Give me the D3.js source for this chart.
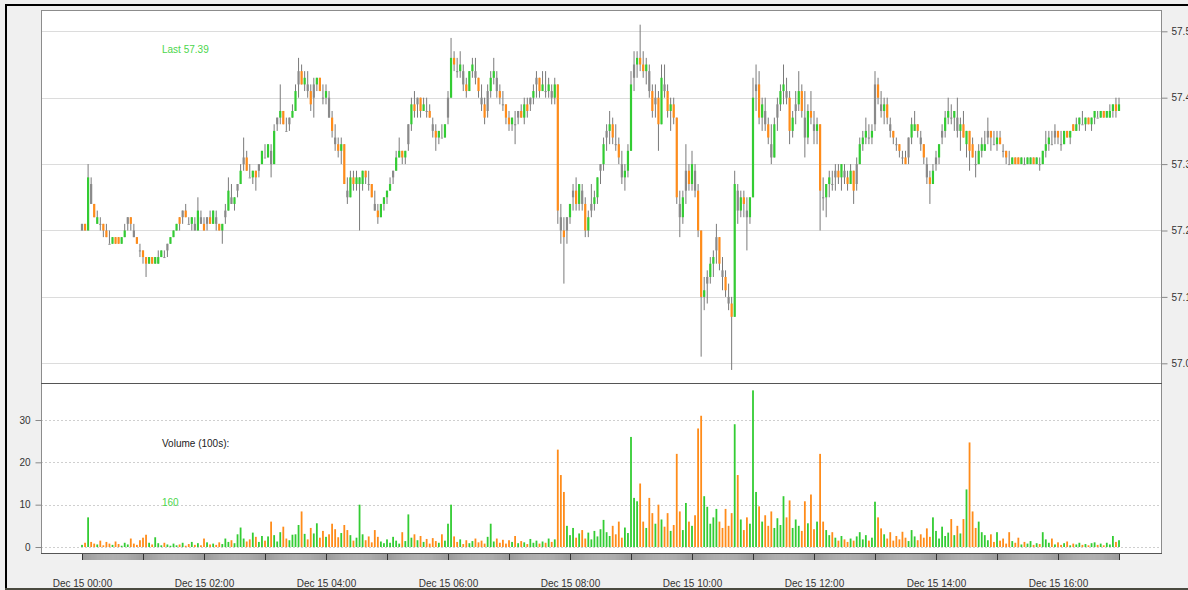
<!DOCTYPE html>
<html>
<head>
<meta charset="utf-8">
<script src="https://cdn.jsdelivr.net/npm/d3@7"></script>
<style>
  html, body { margin: 0; padding: 0; background: #f0f0f0; }
  svg { display: block; font-family: "Liberation Sans", Arial, sans-serif; }
</style>
</head>
<body>
<svg width="1188" height="590"></svg>
<script>
// 3-minute bars, Dec 15 00:00 -> 17:00
const opens = [57.20,57.21,57.20,57.27,57.24,57.21,57.21,57.21,57.20,57.18,57.18,57.19,57.19,57.18,57.19,57.21,57.22,57.20,57.19,57.17,
 57.17,57.16,57.15,57.16,57.15,57.15,57.16,57.16,57.17,57.18,57.19,57.20,57.22,57.22,57.23,57.21,57.21,57.21,57.20,57.22,
 57.21,57.21,57.22,57.21,57.22,57.21,57.20,57.22,57.23,57.25,57.24,57.26,57.27,57.30,57.31,57.28,57.28,57.29,57.29,57.30,
 57.31,57.31,57.32,57.30,57.36,57.37,57.38,57.35,57.36,57.37,57.38,57.42,57.44,57.42,57.42,57.41,57.40,57.42,57.43,57.40,
 57.40,57.40,57.37,57.34,57.33,57.32,57.33,57.26,57.25,57.28,57.27,57.27,57.27,57.29,57.27,57.27,57.24,57.23,57.22,57.24,
 57.25,57.26,57.28,57.29,57.31,57.32,57.31,57.33,57.36,57.39,57.39,57.40,57.38,57.38,57.38,57.36,57.35,57.34,57.34,57.34,
 57.37,57.40,57.46,57.44,57.44,57.44,57.42,57.41,57.44,57.44,57.43,57.40,57.39,57.38,57.41,57.43,57.43,57.41,57.39,57.39,
 57.37,57.36,57.36,57.37,57.38,57.37,57.39,57.39,57.40,57.42,57.43,57.41,57.41,57.41,57.41,57.40,57.42,57.22,57.20,57.20,
 57.22,57.25,57.26,57.24,57.26,57.24,57.20,57.23,57.24,57.25,57.29,57.30,57.34,57.35,57.36,57.33,57.33,57.30,57.28,57.29,
 57.32,57.43,57.45,57.46,57.45,57.44,57.44,57.41,57.39,57.40,57.36,57.42,57.41,57.38,57.39,57.37,57.24,57.22,57.26,57.29,
 57.27,57.29,57.26,57.20,57.10,57.12,57.13,57.15,57.17,57.19,57.14,57.13,57.10,57.09,57.07,57.26,57.23,57.25,57.23,57.22,
 57.25,57.41,57.42,57.37,57.38,57.36,57.33,57.31,57.37,57.39,57.41,57.41,57.40,57.35,57.38,57.39,57.41,57.37,57.34,57.38,
 57.36,57.35,57.36,57.25,57.25,57.27,57.27,57.28,57.29,57.28,57.29,57.28,57.27,57.29,57.27,57.30,57.33,57.34,57.34,57.34,
 57.36,57.42,57.39,57.38,57.39,57.36,57.35,57.33,57.33,57.31,57.31,57.31,57.34,57.35,57.36,57.34,57.33,57.30,57.28,57.27,
 57.30,57.31,57.34,57.35,57.37,57.37,57.37,57.37,57.35,57.36,57.33,57.35,57.33,57.30,57.30,57.32,57.32,57.34,57.35,57.33,
 57.33,57.34,57.32,57.32,57.30,57.30,57.31,57.31,57.30,57.30,57.30,57.30,57.31,57.30,57.30,57.30,57.32,57.33,57.33,57.34,
 57.35,57.33,57.33,57.35,57.34,57.36,57.35,57.36,57.36,57.36,57.37,57.36,57.37,57.37,57.37,57.38,57.37,57.37,57.38,57.39,
 57.38];

const highs = [57.21,57.21,57.30,57.28,57.24,57.23,57.22,57.21,57.21,57.20,57.19,57.19,57.19,57.19,57.21,57.22,57.22,57.21,57.19,57.18,
 57.17,57.16,57.16,57.16,57.16,57.17,57.17,57.17,57.18,57.19,57.20,57.21,57.22,57.23,57.24,57.22,57.22,57.22,57.25,57.23,
 57.22,57.22,57.23,57.23,57.23,57.21,57.21,57.24,57.28,57.27,57.25,57.27,57.30,57.34,57.32,57.30,57.29,57.29,57.30,57.32,
 57.33,57.33,57.33,57.36,57.37,57.42,57.38,57.37,57.37,57.39,57.42,57.46,57.45,57.44,57.44,57.42,57.43,57.43,57.43,57.42,
 57.42,57.41,57.38,57.36,57.34,57.34,57.33,57.28,57.29,57.29,57.29,57.28,57.29,57.29,57.29,57.27,57.26,57.24,57.24,57.25,
 57.26,57.28,57.29,57.32,57.34,57.32,57.32,57.36,57.40,57.41,57.40,57.40,57.40,57.40,57.39,57.37,57.36,57.35,57.36,57.36,
 57.41,57.49,57.47,57.46,57.47,57.45,57.43,57.44,57.46,57.46,57.43,57.42,57.40,57.42,57.44,57.46,57.44,57.42,57.41,57.39,
 57.38,57.37,57.38,57.38,57.39,57.40,57.40,57.40,57.42,57.44,57.43,57.44,57.44,57.43,57.42,57.43,57.42,57.24,57.22,57.22,
 57.24,57.27,57.28,57.27,57.27,57.25,57.23,57.27,57.26,57.28,57.30,57.34,57.36,57.38,57.37,57.36,57.34,57.32,57.30,57.33,
 57.44,57.47,57.47,57.51,57.47,57.46,57.45,57.42,57.42,57.41,57.45,57.45,57.42,57.40,57.40,57.37,57.26,57.26,57.33,57.30,
 57.32,57.30,57.27,57.20,57.13,57.14,57.16,57.17,57.21,57.19,57.16,57.14,57.12,57.10,57.29,57.27,57.26,57.26,57.25,57.25,
 57.43,57.45,57.44,57.40,57.40,57.37,57.36,57.37,57.40,57.42,57.45,57.43,57.41,57.38,57.41,57.44,57.42,57.41,57.39,57.41,
 57.38,57.37,57.36,57.28,57.27,57.29,57.29,57.30,57.30,57.30,57.30,57.29,57.30,57.29,57.31,57.34,57.35,57.37,57.36,57.36,
 57.44,57.43,57.41,57.40,57.40,57.37,57.35,57.34,57.33,57.32,57.32,57.34,57.37,57.38,57.36,57.35,57.33,57.31,57.29,57.30,
 57.32,57.33,57.36,57.38,57.40,57.39,57.38,57.40,57.37,57.38,57.35,57.35,57.34,57.32,57.33,57.34,57.35,57.37,57.35,57.35,
 57.35,57.35,57.33,57.32,57.32,57.31,57.31,57.31,57.31,57.31,57.31,57.31,57.31,57.31,57.31,57.32,57.35,57.35,57.35,57.36,
 57.35,57.35,57.35,57.35,57.35,57.36,57.37,57.37,57.38,57.37,57.37,57.37,57.38,57.38,57.38,57.38,57.38,57.39,57.39,57.40,
 57.40];

const lows = [57.20,57.20,57.20,57.24,57.22,57.21,57.20,57.19,57.19,57.18,57.18,57.18,57.18,57.18,57.19,57.20,57.20,57.19,57.18,57.16,
 57.15,57.13,57.15,57.15,57.15,57.15,57.16,57.16,57.16,57.18,57.19,57.20,57.20,57.21,57.22,57.21,57.20,57.20,57.20,57.21,
 57.20,57.20,57.21,57.21,57.20,57.20,57.18,57.21,57.23,57.24,57.23,57.25,57.27,57.29,57.29,57.28,57.27,57.26,57.28,57.30,
 57.31,57.31,57.28,57.30,57.35,57.36,57.36,57.35,57.35,57.37,57.38,57.40,57.42,57.41,57.40,57.38,57.37,57.41,57.41,57.39,
 57.39,57.37,57.34,57.32,57.31,57.30,57.27,57.24,57.25,57.26,57.26,57.20,57.26,57.27,57.26,57.25,57.23,57.21,57.22,57.23,
 57.24,57.26,57.27,57.29,57.31,57.30,57.30,57.32,57.35,57.37,57.37,57.37,57.38,57.37,57.37,57.34,57.32,57.33,57.34,57.34,
 57.36,57.40,57.44,57.43,57.43,57.41,57.40,57.41,57.43,57.42,57.40,57.38,57.36,57.37,57.40,57.42,57.40,57.39,57.38,57.36,
 57.35,57.35,57.33,57.36,57.37,57.36,57.37,57.38,57.39,57.40,57.40,57.41,57.40,57.40,57.39,57.39,57.21,57.18,57.12,57.18,
 57.21,57.23,57.23,57.23,57.23,57.19,57.19,57.22,57.23,57.24,57.27,57.29,57.32,57.33,57.33,57.32,57.30,57.27,57.26,57.28,
 57.32,57.41,57.43,57.44,57.43,57.42,57.40,57.37,57.37,57.32,57.36,57.40,57.37,57.35,57.36,57.24,57.19,57.21,57.24,57.26,
 57.26,57.25,57.19,57.01,57.08,57.09,57.12,57.13,57.15,57.14,57.11,57.10,57.08,56.99,57.07,57.21,57.22,57.22,57.17,57.21,
 57.25,57.38,57.36,57.35,57.35,57.33,57.30,57.31,57.35,57.38,57.39,57.39,57.33,57.34,57.36,57.38,57.37,57.31,57.33,57.36,
 57.33,57.33,57.20,57.23,57.22,57.25,57.26,57.26,57.27,57.26,57.27,57.26,57.27,57.24,57.26,57.30,57.32,57.33,57.33,57.33,
 57.35,57.39,57.37,57.36,57.36,57.34,57.33,57.32,57.31,57.30,57.30,57.30,57.33,57.35,57.34,57.32,57.30,57.27,57.24,57.27,
 57.29,57.30,57.33,57.34,57.36,57.36,57.35,57.34,57.32,57.34,57.31,57.29,57.31,57.28,57.30,57.31,57.32,57.33,57.32,57.33,
 57.32,57.33,57.31,57.30,57.30,57.30,57.30,57.30,57.30,57.30,57.30,57.30,57.30,57.30,57.29,57.30,57.31,57.32,57.33,57.33,
 57.33,57.32,57.33,57.34,57.33,57.35,57.35,57.35,57.36,57.35,57.36,57.35,57.36,57.37,57.37,57.37,57.37,57.37,57.37,57.37,
 57.38];

const closes = [57.21,57.20,57.28,57.24,57.22,57.22,57.21,57.20,57.19,57.18,57.19,57.18,57.18,57.19,57.20,57.22,57.21,57.19,57.18,57.17,
 57.16,57.15,57.16,57.15,57.16,57.16,57.17,57.16,57.18,57.19,57.20,57.21,57.21,57.23,57.22,57.21,57.22,57.20,57.23,57.21,
 57.20,57.22,57.21,57.23,57.21,57.20,57.21,57.23,57.26,57.24,57.25,57.27,57.29,57.31,57.29,57.28,57.29,57.28,57.30,57.32,
 57.31,57.33,57.30,57.35,57.37,57.38,57.36,57.35,57.37,57.38,57.41,57.44,57.42,57.43,57.41,57.39,57.42,57.43,57.41,57.40,
 57.41,57.37,57.35,57.33,57.32,57.33,57.27,57.25,57.28,57.27,57.28,57.28,57.29,57.28,57.27,57.25,57.23,57.22,57.24,57.25,
 57.26,57.27,57.29,57.31,57.32,57.31,57.32,57.36,57.39,57.38,57.40,57.38,57.39,57.38,57.37,57.35,57.34,57.35,57.34,57.36,
 57.40,57.46,57.45,57.44,57.45,57.42,57.41,57.44,57.45,57.43,57.41,57.39,57.37,57.41,57.43,57.44,57.41,57.40,57.39,57.37,
 57.36,57.37,57.36,57.38,57.37,57.39,57.38,57.40,57.41,57.43,57.41,57.42,57.41,57.42,57.40,57.42,57.23,57.20,57.19,57.22,
 57.24,57.26,57.24,57.27,57.24,57.20,57.22,57.24,57.25,57.28,57.30,57.33,57.35,57.36,57.34,57.33,57.31,57.28,57.29,57.32,
 57.42,57.45,57.46,57.45,57.44,57.45,57.41,57.38,57.40,57.36,57.43,57.41,57.38,57.39,57.37,57.25,57.22,57.25,57.29,57.27,
 57.30,57.26,57.20,57.10,57.11,57.13,57.15,57.16,57.19,57.15,57.13,57.11,57.09,57.07,57.27,57.23,57.25,57.24,57.22,57.25,
 57.40,57.42,57.37,57.39,57.36,57.34,57.31,57.36,57.39,57.41,57.42,57.40,57.35,57.37,57.39,57.41,57.38,57.34,57.38,57.37,
 57.35,57.36,57.26,57.25,57.27,57.28,57.27,57.29,57.28,57.30,57.28,57.27,57.29,57.26,57.30,57.33,57.34,57.35,57.34,57.35,
 57.42,57.40,57.38,57.39,57.37,57.35,57.34,57.33,57.32,57.31,57.30,57.34,57.36,57.36,57.35,57.33,57.31,57.28,57.27,57.29,
 57.31,57.33,57.35,57.37,57.38,57.37,57.38,57.35,57.36,57.34,57.35,57.32,57.31,57.30,57.32,57.33,57.33,57.35,57.34,57.33,
 57.34,57.33,57.32,57.31,57.30,57.31,57.30,57.30,57.31,57.30,57.31,57.31,57.30,57.31,57.30,57.32,57.33,57.34,57.33,57.35,
 57.34,57.33,57.35,57.34,57.35,57.35,57.36,57.37,57.36,57.37,57.36,57.37,57.38,57.37,57.38,57.37,57.38,57.38,57.39,57.38,
 57.39];

// volume in hundreds
const volumes = [0.5,1.0,7.0,1.2,0.8,0.6,1.5,0.4,1.2,0.8,0.5,1.3,0.7,0.3,1.0,0.6,2.0,0.8,0.5,1.6,
 2.2,2.9,1.0,0.6,2.3,0.9,0.4,1.0,0.6,0.3,0.8,0.4,0.6,1.0,0.3,0.7,1.2,0.5,0.9,0.4,
 2.0,1.1,0.6,0.8,0.5,1.1,0.7,2.0,1.2,1.6,0.9,3.0,4.6,2.0,1.3,1.8,3.4,2.4,1.2,2.6,
 1.5,2.5,6.0,2.8,1.3,3.5,4.8,2.0,1.6,2.9,3.0,5.2,8.4,3.1,1.8,4.5,3.2,5.6,2.2,3.8,
 2.4,3.0,5.5,4.2,2.3,3.3,5.2,4.0,2.8,1.5,2.2,10.0,3.0,1.6,2.5,1.1,4.0,2.4,1.3,0.9,
 1.8,1.0,2.4,1.5,0.8,3.5,1.4,7.7,2.2,3.0,1.6,2.6,1.2,1.9,0.8,2.1,1.4,1.0,3.0,1.5,
 5.5,10.0,2.5,1.2,1.8,0.7,1.6,0.9,1.4,2.0,1.1,1.5,0.8,2.4,5.5,1.3,2.0,1.0,1.7,0.8,
 1.6,1.2,2.6,0.9,1.4,1.1,0.7,1.9,1.0,1.5,0.8,1.3,1.0,2.0,1.2,1.8,23.0,17.0,13.0,5.0,
 2.8,4.5,2.2,3.2,4.0,2.0,3.4,1.8,3.8,2.5,4.2,6.4,3.5,2.6,5.0,3.0,6.0,2.2,4.6,3.3,
 26.0,11.6,10.8,15.0,6.0,4.5,11.6,8.0,5.5,10.0,6.5,4.8,8.0,3.8,5.2,22.0,8.4,4.0,10.4,6.0,
 5.0,7.5,28.0,31.0,12.0,9.5,5.5,7.0,9.0,6.0,4.5,9.0,5.0,8.0,29.0,17.0,6.5,4.0,7.0,5.5,
 37.0,13.0,9.6,6.0,7.5,5.0,8.4,4.5,6.8,5.2,12.0,7.0,11.0,4.5,6.5,5.0,3.8,10.8,5.6,12.4,
 4.2,6.0,22.0,6.0,4.0,2.8,3.5,2.2,1.5,2.6,1.8,1.2,2.0,1.5,2.5,3.5,1.8,2.8,1.5,2.2,
 10.7,7.0,4.4,3.0,2.0,3.5,1.5,2.6,1.8,3.6,2.2,1.4,4.0,2.5,1.6,3.0,2.2,4.4,2.4,7.0,
 3.8,2.0,4.8,2.6,3.4,6.6,2.8,5.0,3.2,6.6,13.6,24.7,8.4,4.5,6.0,3.5,2.8,1.6,3.0,1.2,
 3.5,1.5,2.0,0.8,3.5,1.4,1.0,2.2,0.6,1.2,0.8,1.4,0.5,0.9,0.7,3.5,1.8,1.0,2.0,0.6,
 1.1,0.5,0.9,1.3,0.4,0.8,0.6,1.0,0.5,0.7,0.4,0.9,1.1,0.5,0.8,0.4,1.0,0.6,2.6,1.2,
 1.6];

const priceTicks = [57.0, 57.1, 57.2, 57.3, 57.4, 57.5];
const volumeTicks = [0, 10, 20, 30];
const labelMinutes = [0, 120, 240, 360, 480, 600, 720, 840, 960];
const timeLabels = ["Dec 15 00:00", "Dec 15 02:00", "Dec 15 04:00", "Dec 15 06:00", "Dec 15 08:00",
                    "Dec 15 10:00", "Dec 15 12:00", "Dec 15 14:00", "Dec 15 16:00"];
const barMinutes = 3;

const green = "#33cc33", orange = "#ff8c1a", grey = "#8a8a8a";

const svg = d3.select("svg");

// layout
const plotL = 41, plotR = 1161, plotT = 10, priceB = 383, volB = 553;

const n = closes.length;
const x = d3.scaleLinear().domain([0, n - 1]).range([82, 1119]);
const xMin = d3.scaleLinear().domain([0, (n - 1) * barMinutes]).range([82, 1119]);
const yP = d3.scaleLinear().domain([57.0, 57.5]).range([363.3, 31.3]);
const yV = d3.scaleLinear().domain([0, 30]).range([547, 420]);

// window frame
svg.append("rect").attr("width", 1188).attr("height", 590).attr("fill", "#f0f0f0");
svg.append("rect").attr("x", 5).attr("y", 4).attr("width", 1183).attr("height", 2).attr("fill", "#000");
svg.append("rect").attr("x", 5).attr("y", 4).attr("width", 2).attr("height", 586).attr("fill", "#000");
svg.append("rect").attr("x", 5).attr("y", 588).attr("width", 1183).attr("height", 2).attr("fill", "#4a4a40");

// plot background
svg.append("rect")
    .attr("x", plotL).attr("y", plotT)
    .attr("width", plotR - plotL).attr("height", volB - plotT)
    .attr("fill", "#fff");

// price grid
svg.append("g").selectAll("line")
    .data(priceTicks)
    .enter().append("line")
        .attr("x1", plotL).attr("x2", plotR)
        .attr("y1", d => Math.round(yP(d)) + 0.5).attr("y2", d => Math.round(yP(d)) + 0.5)
        .attr("stroke", "#dcdcdc");

// volume grid (dotted)
svg.append("g").selectAll("line")
    .data(volumeTicks)
    .enter().append("line")
        .attr("x1", plotL).attr("x2", plotR)
        .attr("y1", d => Math.round(yV(d)) + 0.5).attr("y2", d => Math.round(yV(d)) + 0.5)
        .attr("stroke", "#cfcfcf")
        .attr("stroke-dasharray", "2,2");

const bars = d3.range(n).map(i => ({
    i: i, o: opens[i], h: highs[i], l: lows[i], c: closes[i], v: volumes[i],
    pc: i > 0 ? closes[i - 1] : 0
}));

// quantmod style multi colour candles
function barColour(d) {
    if (d.o < d.c) return d.o > d.pc ? grey : green;
    return d.o < d.pc ? grey : orange;
}
function volColour(d) {
    if (d.c > d.o) return green;
    if (d.c < d.o) return orange;
    return d.c >= d.pc ? green : orange;
}

const bodyW = 2.2, volW = 1.8;

// wicks
svg.append("g").selectAll("line")
    .data(bars)
    .enter().append("line")
        .attr("x1", d => x(d.i)).attr("x2", d => x(d.i))
        .attr("y1", d => yP(d.h)).attr("y2", d => yP(d.l))
        .attr("stroke", "#7a7a7a")
        .attr("stroke-width", 1);

// bodies
svg.append("g").selectAll("rect")
    .data(bars)
    .enter().append("rect")
        .attr("x", d => x(d.i) - bodyW / 2)
        .attr("width", bodyW)
        .attr("y", d => yP(Math.max(d.o, d.c)))
        .attr("height", d => Math.max(1, Math.abs(yP(d.o) - yP(d.c))))
        .attr("fill", barColour);

// volume bars
svg.append("g").selectAll("rect")
    .data(bars)
    .enter().append("rect")
        .attr("x", d => x(d.i) - volW / 2)
        .attr("width", volW)
        .attr("y", d => yV(d.v))
        .attr("height", d => yV(0) - yV(d.v))
        .attr("fill", volColour);

// panel borders
svg.append("rect")
    .attr("x", plotL + 0.5).attr("y", plotT + 0.5)
    .attr("width", plotR - plotL).attr("height", volB - plotT)
    .attr("fill", "none").attr("stroke", "#8c8c8c");
svg.append("line")
    .attr("x1", plotL).attr("x2", plotR + 1)
    .attr("y1", priceB + 0.5).attr("y2", priceB + 0.5)
    .attr("stroke", "#555");
svg.append("line")
    .attr("x1", plotL).attr("x2", plotR + 1)
    .attr("y1", volB + 0.5).attr("y2", volB + 0.5)
    .attr("stroke", "#555");

function styleAxis(g) {
    g.select(".domain").remove();
    g.selectAll(".tick line").attr("stroke", "#888");
    g.selectAll(".tick text")
        .attr("fill", "#333")
        .style("font-size", "10px")
        .style("font-family", "'Liberation Sans', Arial, sans-serif");
}

// price axis on the right
svg.append("g")
    .attr("transform", "translate(" + (plotR + 0.5) + ",0)")
    .call(d3.axisRight(yP).tickValues(priceTicks).tickSize(6).tickPadding(4).tickFormat(d3.format(".1f")))
    .call(styleAxis);

// volume axis on the left
svg.append("g")
    .attr("transform", "translate(" + (plotL + 0.5) + ",0)")
    .call(d3.axisLeft(yV).tickValues(volumeTicks).tickSize(6).tickPadding(5))
    .call(styleAxis);

// minute ticks under the volume panel
svg.append("g")
    .attr("transform", "translate(0," + (volB + 1) + ")")
    .call(d3.axisBottom(xMin).tickValues(d3.range(0, (n - 1) * barMinutes + 1)).tickSize(6).tickFormat(""))
    .call(g => g.select(".domain").remove())
    .call(g => g.selectAll(".tick line").attr("stroke", "#999"));

// hour ticks
svg.append("g")
    .attr("transform", "translate(0," + (volB + 1) + ")")
    .call(d3.axisBottom(xMin).tickValues(d3.range(0, (n - 1) * barMinutes + 1, 60)).tickSize(6).tickFormat(""))
    .call(g => g.select(".domain").remove())
    .call(g => g.selectAll(".tick line").attr("stroke", "#333"));

// time labels
svg.append("g")
    .attr("transform", "translate(0," + (volB + 1) + ")")
    .call(d3.axisBottom(xMin).tickValues(labelMinutes).tickSize(0).tickPadding(26)
        .tickFormat((d, i) => timeLabels[i]))
    .call(styleAxis);

// annotations
svg.append("text")
    .attr("x", 162).attr("y", 53)
    .attr("fill", "#4cd64c")
    .style("font-size", "10px")
    .text("Last " + closes[n - 1]);

svg.append("text")
    .attr("x", 162).attr("y", 447)
    .attr("fill", "#222")
    .style("font-size", "10px")
    .text("Volume (100s):");

svg.append("text")
    .attr("x", 162).attr("y", 506)
    .attr("fill", "#4cd64c")
    .style("font-size", "10px")
    .text(Math.round(volumes[n - 1] * 100));
</script>
</body>
</html>
